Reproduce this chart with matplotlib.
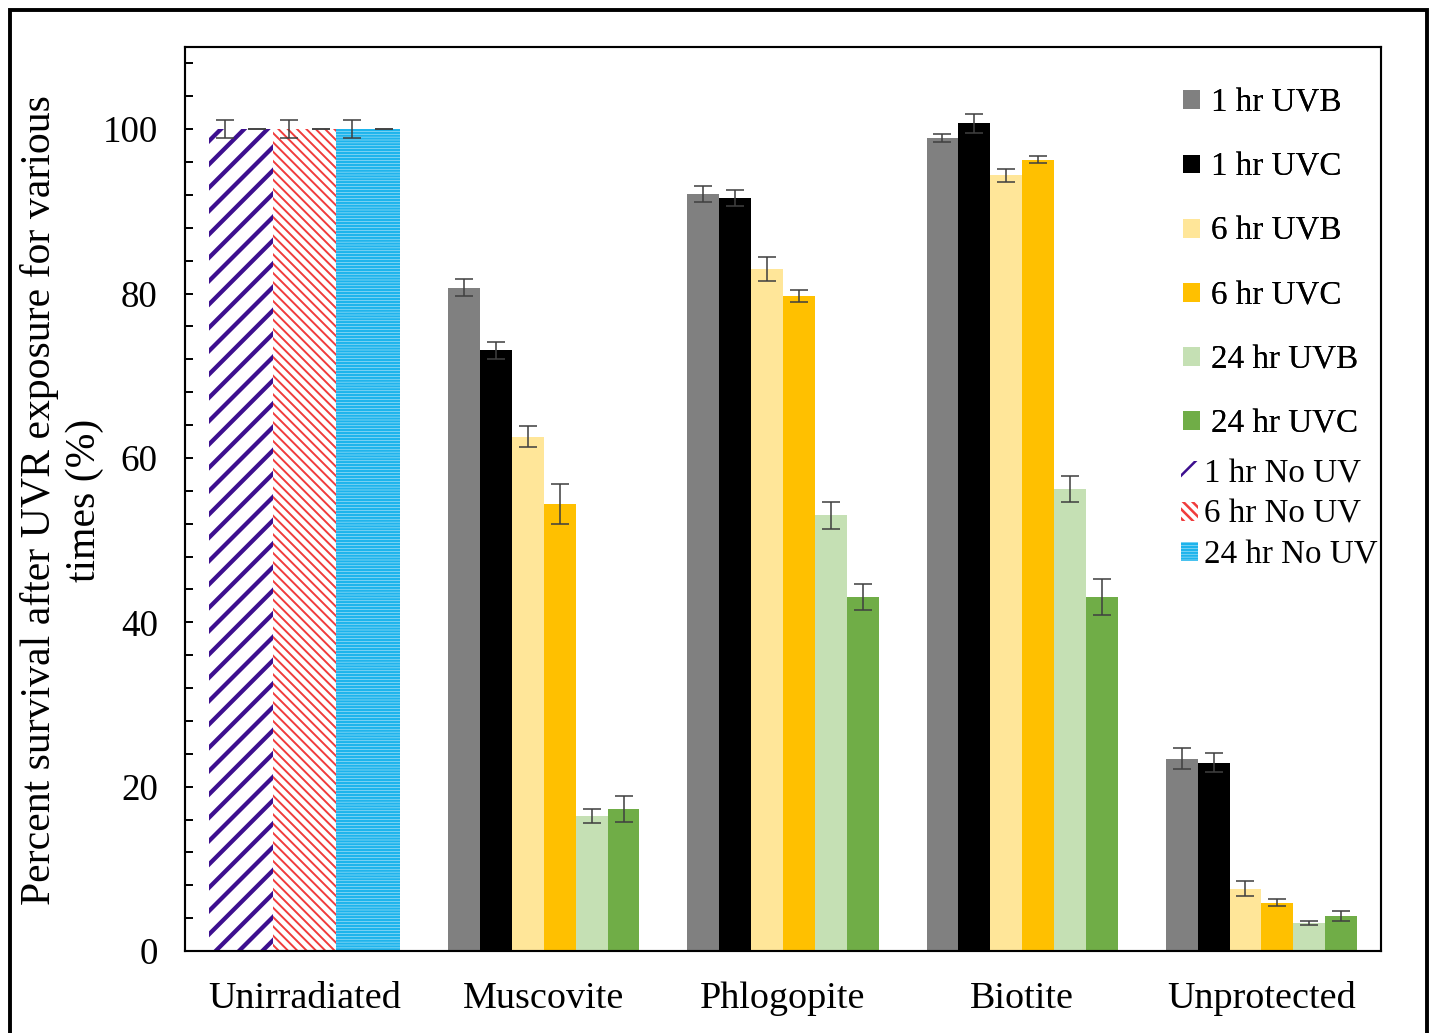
import matplotlib
matplotlib.use("Agg")
import matplotlib.pyplot as plt
from matplotlib.patches import Rectangle
from matplotlib.ticker import MultipleLocator
import numpy as np

plt.rcParams['font.family'] = ['Liberation Serif', 'DejaVu Serif']

categories = ["Unirradiated", "Muscovite", "Phlogopite", "Biotite", "Unprotected"]

# UV exposed samples (Muscovite, Phlogopite, Biotite, Unprotected)
uv_labels = ["1 hr UVB", "1 hr UVC", "6 hr UVB", "6 hr UVC", "24 hr UVB", "24 hr UVC"]
uv_colors = ["#808080", "#000000", "#FFE699", "#FFC000", "#C5E0B4", "#70AD47"]
mean_1hr_uvb = [80.7, 92.1, 98.9, 23.4]
err_1hr_uvb = [1.05, 0.95, 0.5, 1.25]
mean_1hr_uvc = [73.1, 91.6, 100.7, 22.9]
err_1hr_uvc = [1.05, 0.95, 1.15, 1.15]
mean_6hr_uvb = [62.6, 83.0, 94.4, 7.6]
err_6hr_uvb = [1.25, 1.5, 0.8, 0.9]
mean_6hr_uvc = [54.4, 79.7, 96.3, 5.9]
err_6hr_uvc = [2.4, 0.7, 0.4, 0.4]
mean_24hr_uvb = [16.4, 53.0, 56.2, 3.4]
err_24hr_uvb = [0.85, 1.6, 1.55, 0.25]
mean_24hr_uvc = [17.3, 43.1, 43.1, 4.3]
err_24hr_uvc = [1.6, 1.55, 2.2, 0.6]

# unirradiated controls
nouv_labels = ["1 hr No UV", "6 hr No UV", "24 hr No UV"]
nouv_means = [100, 100, 100]
nouv_err_a = [1.1, 1.1, 1.1]
nouv_err_b = [0.0, 0.0, 0.0]
nouv_colors = ["#3D0F8F", "#F03C3C", "#1EB4EC"]
nouv_hatches = ["//", "\\\\\\\\\\", "--------"]
nouv_hatch_lw = [2.2, 1.0, 1.3]

uv_means = [mean_1hr_uvb, mean_1hr_uvc, mean_6hr_uvb, mean_6hr_uvc, mean_24hr_uvb, mean_24hr_uvc]
uv_errs = [err_1hr_uvb, err_1hr_uvc, err_6hr_uvb, err_6hr_uvc, err_24hr_uvb, err_24hr_uvc]

W, H, DPI = 1432, 1033, 140
fig = plt.figure(figsize=(W / DPI, H / DPI), dpi=DPI)
ax = fig.add_axes([185 / W, 1 - 951 / H, (1381 - 185) / W, (951 - 47) / H])

group = 0.8
slot = group / 6
err_kw = dict(fmt='none', ecolor='#404040', elinewidth=0.8, capsize=4.5, capthick=0.8, zorder=4)

# unirradiated: three wide bars, each covering two slots
x0 = 0 - group / 2
nouv_handles = []
for i in range(3):
    left = x0 + 2 * i * slot
    plt.rcParams['hatch.linewidth'] = nouv_hatch_lw[i]
    b = ax.bar(left + slot, nouv_means[i], width=2 * slot, facecolor='white',
               edgecolor=nouv_colors[i], hatch=nouv_hatches[i], linewidth=0, label=nouv_labels[i])
    for p in b.patches:
        if hasattr(p, 'set_hatch_linewidth'):
            p.set_hatch_linewidth(nouv_hatch_lw[i])
    nouv_handles.append(b)
    ax.errorbar([left + slot / 2], [nouv_means[i]], yerr=[nouv_err_a[i]], **err_kw)
    ax.errorbar([left + 1.5 * slot], [nouv_means[i]], yerr=[nouv_err_b[i]], **err_kw)

# exposed samples
xc = np.arange(1, 5)
uv_handles = []
for j in range(6):
    xs = xc - group / 2 + slot * (j + 0.5)
    b = ax.bar(xs, uv_means[j], width=slot, color=uv_colors[j], linewidth=0, label=uv_labels[j])
    uv_handles.append(b)
    ax.errorbar(xs, uv_means[j], yerr=uv_errs[j], **err_kw)

ax.set_xlim(-0.5, 4.5)
ax.set_ylim(0, 110)
ax.set_xticks(np.arange(5))
ax.set_xticklabels(categories, fontsize=19.6)
ax.tick_params(axis='x', length=0, pad=15.5)
ax.set_yticks([0, 20, 40, 60, 80, 100])
ax.yaxis.set_minor_locator(MultipleLocator(4))
ax.tick_params(axis='y', which='both', direction='in', length=4, width=1, labelsize=19, pad=14)
for s in ax.spines.values():
    s.set_linewidth(1.1)

fig.text(62 / W, 1 - 500 / H, "Percent survival after UVR exposure for various\ntimes (%)",
         rotation=90, ha='center', va='center', fontsize=21.5, linespacing=1.22, multialignment='center')

leg1 = fig.legend(handles=uv_handles, loc='upper left', bbox_to_anchor=(1183 / W, 1 - 88 / H),
                  frameon=False, fontsize=17, handlelength=0.5, handleheight=0.5,
                  handletextpad=0.35, labelspacing=1.02, borderpad=0, borderaxespad=0)
fig.add_artist(leg1)
fig.legend(handles=nouv_handles, loc='upper left', bbox_to_anchor=(1181 / W, 1 - 459 / H),
           frameon=False, fontsize=17, handlelength=0.5, handleheight=0.5,
           handletextpad=0.2, labelspacing=0.3, borderpad=0, borderaxespad=0)

# outer frame
fig.patches.append(Rectangle((10 / W, -0.02), (1427 - 10) / W, 1 - 10 / H + 0.02,
                             transform=fig.transFigure, fill=False, edgecolor='black', linewidth=2))

fig.savefig("out.png", dpi=DPI)
